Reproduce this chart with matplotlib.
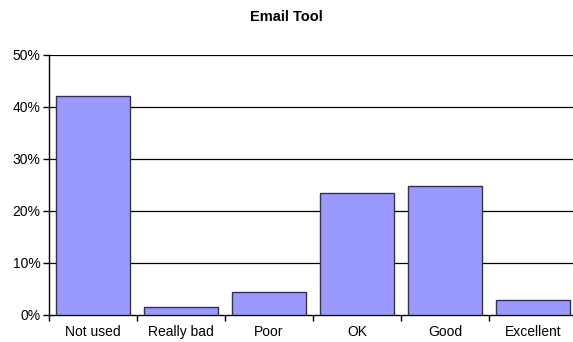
import matplotlib
matplotlib.use('Agg')
import matplotlib.pyplot as plt
import numpy as np
from matplotlib.ticker import PercentFormatter

plt.rcParams['font.family'] = ['Liberation Sans', 'DejaVu Sans']

categories = ["Not used", "Really bad", "Poor", "OK", "Good", "Excellent"]
values = [42.2, 1.5, 4.5, 23.4, 24.8, 2.9]
yticks = [0, 10, 20, 30, 40, 50]

W, H = 573, 342
fig = plt.figure(figsize=(W / 100, H / 100), dpi=100)
# axes runs slightly past the right edge of the picture, as in the reference
ax = fig.add_axes([49 / W, 27 / H, 528 / W, 260 / H])

x = np.arange(len(categories))
ax.bar(x, values, width=0.83, color="#9999FF", edgecolor="#333344",
       linewidth=1.0, zorder=3)

ax.set_xlim(-0.5, len(categories) - 0.5)
ax.set_ylim(0, 50)
ax.set_yticks(yticks)
ax.yaxis.set_major_formatter(PercentFormatter(decimals=0))
for t in yticks[1:]:
    ax.axhline(t, color="black", linewidth=0.9, zorder=1)

ax.set_xticks(x)
ax.set_xticklabels(categories)
ax.set_xticks(np.arange(len(categories) + 1) - 0.5, minor=True)
ax.tick_params(axis='x', which='major', length=0, pad=7, labelsize=10)
ax.tick_params(axis='x', which='minor', length=4, width=1, direction='out')
ax.tick_params(axis='y', length=4, width=1, direction='out', labelsize=10, pad=2)

for side in ['top', 'right']:
    ax.spines[side].set_visible(False)
ax.spines['left'].set_linewidth(1.0)
ax.spines['bottom'].set_linewidth(1.0)

fig.text(286 / W, 1 - 17 / H, "Email Tool", ha='center', va='center',
         fontsize=10.5, fontweight='bold')

fig.savefig("out.png", dpi=100)
